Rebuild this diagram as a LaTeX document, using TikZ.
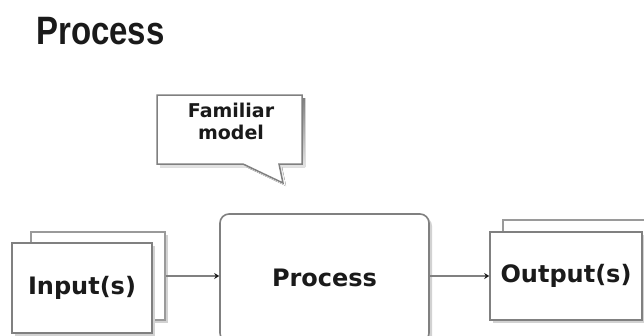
\documentclass[tikz,border=0pt]{standalone}
\usepackage{fontspec}
\setmainfont{DejaVu Sans}
\newfontfamily\titlefont{Liberation Sans}
\usetikzlibrary{arrows.meta,calc,shadows}

\definecolor{edge}{HTML}{808080}
\definecolor{edgeback}{HTML}{9A9A9A}
\definecolor{shade}{HTML}{D2D2D2}
\definecolor{ink}{HTML}{1A1A1A}

\begin{document}
\begin{tikzpicture}[x=1pt,y=-1pt,
  labelfont/.style={font=\bfseries\fontsize{24}{28}\selectfont, text=ink},
  box/.style={draw=edge, line width=1.6pt, fill=white, inner sep=0pt, labelfont},
  backbox/.style={draw=edgeback, line width=1.6pt, fill=white, inner sep=0pt},
  shadowed/.style={drop shadow={shadow xshift=3pt, shadow yshift=-3pt, fill=shade, opacity=1}},
  arr/.style={draw=edge, line width=2.4pt, -{Stealth[length=5pt,width=6pt,color=ink]}},
]
\useasboundingbox (0,0) rectangle (644,335);

% heading
\node[font=\titlefont\bfseries\fontsize{33}{36}\selectfont, text=ink, inner sep=0pt]
  (title) at (100.5,31) {\scalebox{1}[1.2]{Process}};

% speech bubble
\coordinate (notepos) at (231,121);
\begin{scope}[shift={(notepos)}]
  \fill[shade, shift={(3,3)}] (-74,-26) -- (71,-26) -- (71,43) -- (48,43) -- (52,62)
    -- (12,43) -- (-74,43) -- cycle;
  \filldraw[fill=white, draw=edge, line width=1.5pt, line join=miter]
    (-74,-26) -- (71,-26) -- (71,43) -- (48,43) -- (52,62)
    -- (12,43) -- (-74,43) -- cycle;
\end{scope}
\node[inner sep=0pt, align=center, text=ink,
      font=\bfseries\fontsize{19}{22}\selectfont] (note) at (notepos) {Familiar\\model};

% input stack
\node[backbox, shadowed, minimum width=134, minimum height=88] (inback) at (98,276) {};
\node[box, shadowed, minimum width=140, minimum height=90] (infront) at (82,288) {Input(s)};

% process
\node[box, shadowed, rounded corners=9pt, minimum width=209, minimum height=128]
  (proc) at (324.5,278) {Process};

% output stack
\node[backbox, shadowed, minimum width=157, minimum height=88] (outback) at (581.5,264) {};
\node[box, shadowed, minimum width=152, minimum height=88] (outfront) at (566,276) {Output(s)};

% flow
\draw[arr] (inback.east) -- (inback.east -| proc.west);
\draw[arr] (proc.east |- outfront.west) -- (outfront.west);
\end{tikzpicture}
\end{document}
